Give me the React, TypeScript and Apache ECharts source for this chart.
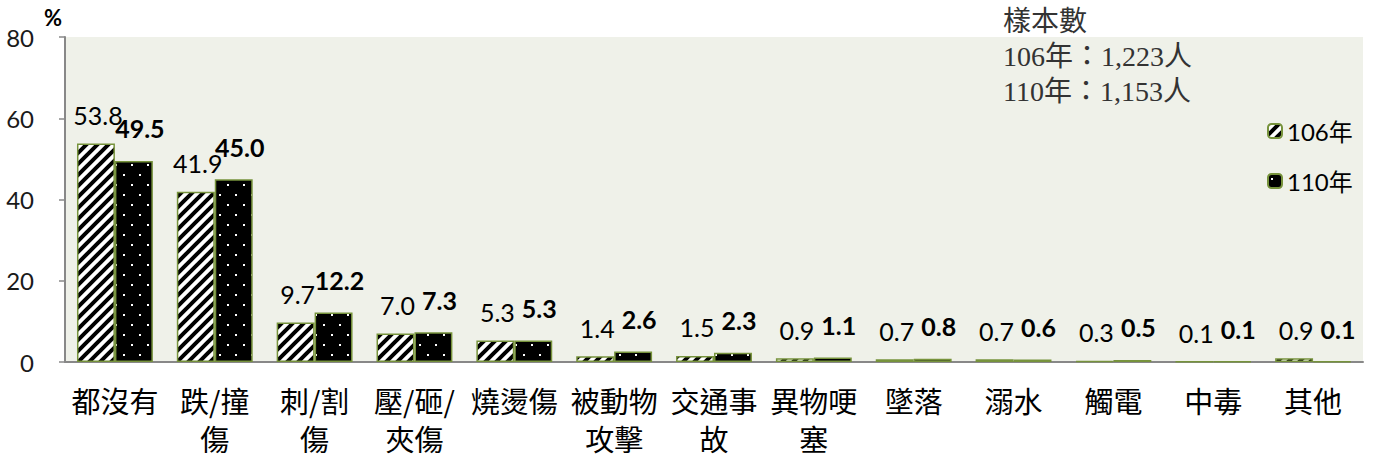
import React, { useEffect, useRef } from "react";
import * as echarts from "echarts";

const categories = ["都沒有", "跌/撞傷", "刺/割傷", "壓/砸/夾傷", "燒燙傷", "被動物攻擊", "交通事故", "異物哽塞", "墜落", "溺水", "觸電", "中毒", "其他"];
const values106 = [53.8, 41.9, 9.7, 7.0, 5.3, 1.4, 1.5, 0.9, 0.7, 0.7, 0.3, 0.1, 0.9];
const values110 = [49.5, 45.0, 12.2, 7.3, 5.3, 2.6, 2.3, 1.1, 0.8, 0.6, 0.5, 0.1, 0.1];
const seriesNames = ["106年", "110年"];
const yTicks = { min: 0, max: 80, interval: 20 };
const sampleNote = "樣本數\n106年：1,223人\n110年：1,153人";

function stripePattern(): HTMLCanvasElement {
  const c = document.createElement("canvas");
  c.width = 11;
  c.height = 11;
  const ctx = c.getContext("2d")!;
  ctx.fillStyle = "#ffffff";
  ctx.fillRect(0, 0, 11, 11);
  ctx.strokeStyle = "#000000";
  ctx.lineWidth = 4;
  ctx.beginPath();
  for (const off of [-11, 0, 11]) {
    ctx.moveTo(off - 2, 13);
    ctx.lineTo(off + 13, -2);
  }
  ctx.stroke();
  return c;
}

function dotPattern(): HTMLCanvasElement {
  const c = document.createElement("canvas");
  c.width = 16;
  c.height = 20;
  const ctx = c.getContext("2d")!;
  ctx.fillStyle = "#000000";
  ctx.fillRect(0, 0, 16, 20);
  ctx.fillStyle = "#ffffff";
  ctx.fillRect(3, 4, 2, 2);
  ctx.fillRect(11, 14, 2, 2);
  return c;
}

function wrapLabel(v: string): string {
  const lines: string[] = [];
  let cur = "";
  let w = 0;
  for (const ch of Array.from(v)) {
    const cw = ch.charCodeAt(0) < 256 ? 0.5 : 1;
    if (w + cw > 3 && cur) {
      lines.push(cur);
      cur = "";
      w = 0;
    }
    cur += ch;
    w += cw;
  }
  if (cur) lines.push(cur);
  return lines.join("\n");
}

export default function App() {
  const ref = useRef<HTMLDivElement>(null);
  useEffect(() => {
    document.body.style.margin = "0";
    if (!ref.current) return;
    const chart = echarts.init(ref.current, null, { renderer: "svg" });
    const border = "#77933c";
    const latin = "Lato, 'Noto Sans CJK TC', sans-serif";
    chart.setOption({
      animation: false,
      backgroundColor: "#ffffff",
      grid: {
        left: 65,
        right: 10,
        top: 37,
        bottom: 97,
        show: true,
        backgroundColor: "#eff1e9",
        borderWidth: 0,
      },
      legend: {
        orient: "vertical",
        left: 1262,
        top: 113,
        itemWidth: 14,
        itemHeight: 14,
        itemGap: 24,
        data: seriesNames,
        textStyle: { fontFamily: latin, fontSize: 24, color: "#000", lineHeight: 26 },
      },
      graphic: [
        {
          type: "text",
          left: 1003,
          top: 4,
          style: {
            text: sampleNote,
            fontFamily: "'Liberation Serif', 'Noto Sans CJK TC', serif",
            fontSize: 28,
            lineHeight: 35,
            fill: "#333333",
          },
          z: 10,
        },
        {
          type: "text",
          left: 44,
          top: 6,
          style: { text: "%", fontFamily: "Lato, sans-serif", fontWeight: "bold", fontSize: 22, fill: "#000" },
        },
      ],
      xAxis: {
        type: "category",
        data: categories,
        axisLine: { lineStyle: { color: "#888888", width: 2 } },
        axisTick: { inside: true, length: 6, lineStyle: { color: "#888888", width: 1.5 } },
        axisLabel: {
          interval: 0,
          margin: 19,
          fontFamily: "'Noto Sans CJK TC', sans-serif",
          fontSize: 29,
          lineHeight: 38,
          color: "#000",
          formatter: wrapLabel,
        },
      },
      yAxis: {
        type: "value",
        min: yTicks.min,
        max: yTicks.max,
        interval: yTicks.interval,
        splitLine: { show: false },
        axisLine: { show: true, lineStyle: { color: "#888888", width: 2 } },
        axisTick: { show: true, length: 6, lineStyle: { color: "#888888", width: 1.5 } },
        axisLabel: { margin: 31, fontFamily: latin, fontSize: 24, color: "#1a1a1a" },
      },
      series: [
        {
          name: seriesNames[0],
          type: "bar",
          data: values106,
          barGap: "0%",
          barCategoryGap: "24%",
          itemStyle: {
            color: { image: stripePattern(), repeat: "repeat" },
            borderColor: border,
            borderWidth: 1.5,
          },
          label: {
            show: true,
            position: "top",
            distance: 16,
            offset: [2, 0],
            fontFamily: latin,
            fontSize: 25,
            color: "#000",
            formatter: (p: any) => Number(p.value).toFixed(1),
          },
        },
        {
          name: seriesNames[1],
          type: "bar",
          data: values110,
          barGap: "0%",
          barCategoryGap: "24%",
          itemStyle: {
            color: { image: dotPattern(), repeat: "repeat" },
            borderColor: border,
            borderWidth: 1.5,
          },
          label: {
            show: true,
            position: "top",
            distance: 20,
            offset: [6, 0],
            fontFamily: latin,
            fontSize: 25,
            fontWeight: "bold",
            color: "#000",
            formatter: (p: any) => Number(p.value).toFixed(1),
          },
        },
      ],
    });
    return () => chart.dispose();
  }, []);
  return <div ref={ref} style={{ width: 1373, height: 459 }} />;
}
